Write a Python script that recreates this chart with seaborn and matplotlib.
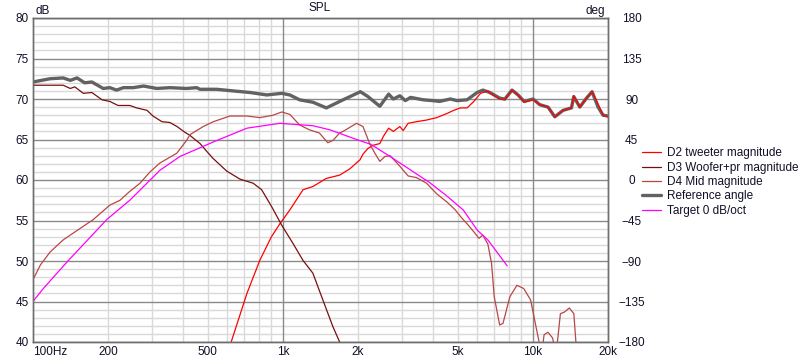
import matplotlib
matplotlib.use("Agg")
import matplotlib.pyplot as plt
from matplotlib.ticker import FixedLocator, NullFormatter
import seaborn as sns

# D2 tweeter magnitude (Hz, dB)
tweeter_f = [560, 621, 718, 809, 900, 973, 1066, 1204, 1319, 1493, 1687, 1857, 2036, 2092,
             2191, 2302, 2443, 2526, 2650, 2767, 2938, 3030, 3171, 3422, 3757, 4124, 4528,
             4826, 5129, 5457, 5810, 6180, 6615, 6740, 7380, 7730, 8259, 8730, 9230, 10030,
             10660, 11510, 12250, 13220, 14280, 14590, 15420, 16400, 17270, 18250, 19110, 20000]
tweeter_db = [38.5, 40.0, 46.0, 50.1, 53.0, 54.6, 56.3, 58.8, 59.2, 60.2, 60.6, 61.4, 62.5, 63.2,
              63.9, 64.3, 64.5, 65.4, 66.4, 66.0, 66.6, 66.1, 67.0, 67.2, 67.4, 67.7, 68.2,
              68.6, 68.9, 68.9, 69.7, 70.7, 71.0, 70.7, 70.0, 69.9, 71.1, 70.5, 69.6, 69.9,
              69.3, 69.0, 67.8, 68.6, 68.9, 70.4, 69.0, 70.1, 70.9, 69.4, 68.0, 67.8]

# D3 woofer+pr magnitude
woofer_f = [100, 132, 141, 147, 159, 172, 189, 203, 219, 244, 260, 286, 302, 328, 353, 377,
            405, 425, 466, 497, 524, 596, 674, 761, 822, 902, 990, 1096, 1202, 1318, 1445,
            1585, 1687, 1800]
woofer_db = [71.7, 71.7, 71.3, 71.5, 70.7, 70.8, 69.9, 69.7, 69.2, 69.2, 68.9, 68.6, 67.9,
             67.2, 67.1, 66.6, 65.9, 65.5, 64.5, 63.5, 62.7, 61.1, 60.1, 59.6, 58.8, 56.7,
             54.4, 52.2, 50.1, 48.5, 45.2, 41.9, 40.0, 38.0]

# D4 mid magnitude
mid_f = [100, 107, 117, 132, 154, 174, 203, 223, 244, 268, 294, 322, 376, 412, 425, 480, 527,
         614, 718, 809, 913, 990, 1066, 1166, 1276, 1400, 1513, 1588, 1687, 1741, 1972, 2092,
         2224, 2335, 2443, 2560, 2687, 2938, 3171, 3422, 3757, 4124, 4528, 4898, 5200, 5457,
         5810, 6090, 6310, 6610, 6840, 7010, 7370, 7600, 8100, 8640, 9200, 9800, 10600, 10850,
         11100, 11500, 12000, 12400, 12900, 13400, 14000, 14600, 15000]
mid_db = [47.7, 49.5, 51.1, 52.6, 54.0, 55.1, 56.9, 57.5, 58.6, 59.6, 61.0, 62.1, 63.3, 64.9,
          65.6, 66.6, 67.2, 67.9, 67.9, 67.7, 68.0, 68.4, 68.1, 66.8, 66.2, 65.8, 64.6, 64.9,
          65.8, 66.0, 67.0, 66.6, 64.5, 63.3, 62.3, 62.9, 63.0, 61.7, 60.5, 60.3, 59.6, 58.3,
          57.3, 56.3, 55.3, 54.6, 53.6, 52.8, 53.2, 52.1, 49.7, 45.6, 42.1, 42.3, 45.6, 47.0,
          46.6, 45.2, 40.0, 38.5, 40.9, 41.2, 40.5, 38.5, 43.5, 43.7, 44.2, 43.5, 38.5]

# Reference angle (deg, right axis)
ref_f = [100, 117, 132, 141, 150, 161, 172, 191, 203, 216, 230, 252, 277, 313, 353, 412, 452,
         466, 542, 632, 740, 862, 990, 1066, 1166, 1319, 1493, 1588, 1741, 1857, 2042, 2189,
         2443, 2650, 2767, 2938, 3090, 3243, 3640, 3978, 4234, 4677, 4980, 5457, 5990, 6310,
         6740, 7380, 7730, 8259, 8730, 9230, 10030, 10660, 11510, 12250, 13220, 14280, 14590,
         15420, 16400, 17270, 18250, 19110, 20000]
ref_deg = [108.9, 112.5, 113.4, 110.7, 113.4, 108.0, 108.9, 101.7, 102.6, 99.9, 102.6, 102.6,
           104.4, 101.7, 102.6, 101.7, 102.6, 100.8, 100.8, 99.0, 97.2, 94.5, 96.3, 94.5, 89.1,
           86.4, 80.1, 83.7, 89.1, 92.7, 98.1, 92.7, 81.9, 95.4, 90.0, 93.6, 88.2, 91.8, 89.1,
           88.2, 87.3, 90.0, 88.2, 89.1, 97.2, 99.9, 97.2, 90.9, 90.0, 99.9, 94.5, 87.3, 90.0,
           83.7, 81.0, 70.2, 77.4, 80.1, 92.7, 81.0, 90.9, 98.1, 81.0, 72.0, 71.1]

# Target 0 dB/oct
target_f = [100, 110, 137, 180, 197, 244, 322, 387, 527, 718, 973, 1319, 1540, 1972, 2250,
            2687, 3330, 3860, 4500, 5270, 6000, 6610, 7900]
target_db = [45.0, 46.6, 49.9, 53.8, 55.1, 57.5, 61.2, 62.9, 64.7, 66.4, 67.0, 66.7, 66.2,
             65.0, 64.4, 62.9, 61.0, 59.7, 58.1, 56.3, 53.8, 52.6, 49.4]

xtick_pos = [100, 200, 500, 1000, 2000, 5000, 10000, 20000]
xtick_lab = ["100Hz", "200", "500", "1k", "2k", "5k", "10k", "20k"]

sns.set_style("white")
plt.rcParams["font.family"] = ["Liberation Sans", "DejaVu Sans"]
plt.rcParams["font.size"] = 8

fig = plt.figure(figsize=(7.98, 3.6), dpi=100)
ax = fig.add_axes([33 / 798, 18 / 360, 575 / 798, 324 / 360])
ax2 = ax.twinx()
# magnitudes above the angle axis, grid lives on the angle axis
ax.set_zorder(ax2.get_zorder() + 1)
ax.patch.set_visible(False)

light = "#d9d9d9"
dark = "#8a8a8a"
txt = "#101028"

ax.set_xscale("log")
ax.set_xlim(100, 20000)
ax.set_ylim(40, 80)
ax2.set_ylim(-180, 180)

# grid on ax2
ax2.yaxis.set_major_locator(FixedLocator(list(range(-180, 181, 45))))
ax2.yaxis.set_minor_locator(FixedLocator(list(range(-180, 181, 9))))
ax2.grid(which="minor", axis="y", color=light, lw=1)
ax2.grid(which="major", axis="y", color=dark, lw=1)
for dec in [100, 1000, 10000]:
    for m in range(2, 10):
        if dec * m <= 20000:
            ax2.axvline(dec * m, color=light, lw=1, zorder=0.5)
for v in [1000, 10000]:
    ax2.axvline(v, color=dark, lw=1, zorder=0.6)

sns.lineplot(x=ref_f, y=ref_deg, ax=ax2, color="#626262", lw=2.4, label="Reference angle")
sns.lineplot(x=tweeter_f, y=tweeter_db, ax=ax, color="#ff0000", lw=0.9, label="D2 tweeter magnitude")
sns.lineplot(x=woofer_f, y=woofer_db, ax=ax, color="#7a0f0f", lw=0.9, label="D3 Woofer+pr magnitude")
sns.lineplot(x=mid_f, y=mid_db, ax=ax, color="#b94646", lw=0.9, label="D4 Mid magnitude")
sns.lineplot(x=target_f, y=target_db, ax=ax, color="#ff00ff", lw=0.9, label="Target 0 dB/oct")

ax.set_xticks(xtick_pos)
ax.set_xticklabels(xtick_lab)
ax.xaxis.set_minor_formatter(NullFormatter())
ax.set_yticks(list(range(40, 81, 5)))
ax2.set_yticks(list(range(-180, 181, 45)))
ax.set_xlabel("")
ax.set_ylabel("")
ax2.set_ylabel("")
ax.tick_params(axis="both", which="both", length=0, colors=txt, labelsize=8.5)
ax.tick_params(axis="x", pad=3)
ax.tick_params(axis="y", pad=3)
ax2.tick_params(axis="y", which="both", length=0, colors=txt, labelsize=8.5, pad=17)
for lab in ax2.get_yticklabels():
    lab.set_horizontalalignment("center")
ax.get_xticklabels()[0].set_horizontalalignment("left")

for a in (ax, ax2):
    for s in a.spines.values():
        s.set_color("#6e6e6e")
        s.set_linewidth(1)

h1, l1 = ax.get_legend_handles_labels()
h2, l2 = ax2.get_legend_handles_labels()
ax.get_legend().remove()
ax2.get_legend().remove()
handles = h1[:3] + h2 + h1[3:]
labels = l1[:3] + l2 + l1[3:]
fig.legend(handles, labels, loc="upper left", bbox_to_anchor=(640 / 798, 1 - 145 / 360),
           frameon=False, fontsize=8.5, handlelength=1.6, handletextpad=0.5,
           labelspacing=0.2, borderaxespad=0, borderpad=0.2, labelcolor=txt)

fig.text(320 / 798, 1 - 8 / 360, "SPL", ha="center", va="center", fontsize=8.5, color=txt)
fig.text(35 / 798, 1 - 11 / 360, "dB", ha="left", va="center", fontsize=8.5, color=txt)
fig.text(605 / 798, 1 - 11 / 360, "deg", ha="right", va="center", fontsize=8.5, color=txt)

fig.savefig("out.png", dpi=100)
